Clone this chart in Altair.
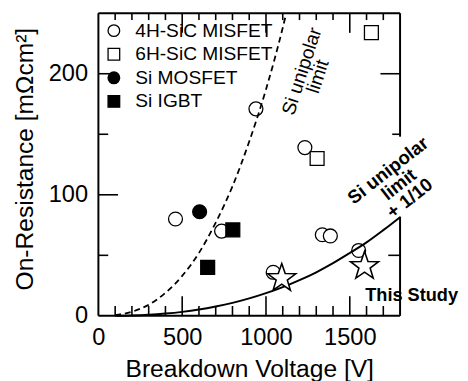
import altair as alt
import pandas as pd

FONT = "Liberation Sans"
W, H = 307, 308

# ---- data ----
cats = ["4H-SiC MISFET", "6H-SiC MISFET", "Si MOSFET", "Si IGBT"]
mis4h_bv = [460, 735, 940, 1232, 1336, 1384, 1553, 1043]
mis4h_ron = [80, 70, 171, 139, 67, 66, 54, 36]
mis6h_bv = [1629, 1305]
mis6h_ron = [234, 130]
mos_bv = [604]
mos_ron = [86]
igbt_bv = [652, 802]
igbt_ron = [40, 71]
study_bv = [1094, 1588]
study_ron = [31, 41]

# Si unipolar limit (dashed) and limit/10 (solid)
lim_bv = [100, 200, 300, 400, 500, 600, 700, 800, 900, 1000, 1100, 1121]
lim_ron = [0.6, 3.4, 9.2, 19, 33, 52, 77, 107, 144, 187, 238, 250]
lim10_bv = [100, 200, 300, 400, 500, 600, 700, 800, 900, 1000, 1100, 1200,
            1300, 1400, 1500, 1600, 1700, 1800]
lim10_ron = [0.06, 0.34, 0.92, 1.9, 3.3, 5.2, 7.7, 10.7, 14.4, 18.8, 23.7, 29.5,
             36, 43.5, 51.9, 60.7, 70.8, 81.5]

x_labels = [0, 500, 1000, 1500]
y_labels = [0, 100, 200]
x_minor = [100, 200, 300, 400, 600, 700, 800, 900, 1100, 1200, 1300, 1400, 1600, 1700]
x_major = [500, 1000, 1500]
y_minor = [50, 150]
y_major = [100, 200]
right_ticks_v = [50, 150, 200]
right_ticks_len = [12, 8, 20]

# frame segments (right edge interrupted behind the label)
frame_x1 = [0, 0, 0, 1800, 1800]
frame_x2 = [1800, 1800, 0, 1800, 1800]
frame_y1 = [0, 250, 0, 0, 148]
frame_y2 = [0, 250, 250, 82, 250]

xs = alt.Scale(domain=[0, 1800], nice=False, zero=False)
ys = alt.Scale(domain=[0, 250], nice=False, zero=False)

X_AX = alt.Axis(
    values=x_labels, format="d", ticks=False, domain=False, grid=False,
    labelFlush=False, labelFontSize=24, labelFont=FONT, labelColor="black",
    labelPadding=10, title="Breakdown Voltage [V]", titleFontSize=25,
    titleFont=FONT, titleFontWeight="normal", titleColor="black", titlePadding=8)
Y_AX = alt.Axis(
    values=y_labels, format="d", ticks=False, domain=False, grid=False,
    labelFlush=False, labelFontSize=24, labelFont=FONT, labelColor="black",
    labelPadding=11, title="On-Resistance [mΩcm²]", titleFontSize=25,
    titleFont=FONT, titleFontWeight="normal", titleColor="black",
    titlePadding=11, titleY=148)


def X(f):
    return alt.X(f, scale=xs, axis=X_AX)


def Y(f):
    return alt.Y(f, scale=ys, axis=Y_AX)


STAR = ("M0,-1L0.235,-0.324L0.951,-0.309L0.380,0.124L0.588,0.809L0,0.4"
        "L-0.588,0.809L-0.380,0.124L-0.951,-0.309L-0.235,-0.324Z")

pts = pd.DataFrame({
    "device": [cats[0]] * len(mis4h_bv) + [cats[1]] * len(mis6h_bv)
    + [cats[2]] * len(mos_bv) + [cats[3]] * len(igbt_bv),
    "bv": mis4h_bv + mis6h_bv + mos_bv + igbt_bv,
    "ron": mis4h_ron + mis6h_ron + mos_ron + igbt_ron,
})

leg = alt.Legend(title=None, orient="none", legendX=6, legendY=8, padding=0,
                 rowPadding=3, labelFontSize=19.5, labelFont=FONT, labelColor="black",
                 symbolSize=140, symbolStrokeWidth=1.3, labelOffset=12)

points = alt.Chart(pts).mark_point(filled=True, size=200, strokeWidth=1.3,
                                    opacity=1).encode(
    x=X("bv:Q"), y=Y("ron:Q"),
    shape=alt.Shape("device:N", scale=alt.Scale(domain=cats,
                    range=["circle", "square", "circle", "square"]), legend=leg),
    fill=alt.Fill("device:N", scale=alt.Scale(domain=cats,
                  range=["white", "white", "black", "black"]), legend=leg),
    stroke=alt.Stroke("device:N", scale=alt.Scale(domain=cats,
                      range=["black", "black", "black", "black"]), legend=leg),
)

study = alt.Chart(pd.DataFrame({"bv": study_bv, "ron": study_ron})).mark_point(
    shape=STAR, size=900, filled=True, fill="white", stroke="black",
    strokeWidth=1.6, opacity=1).encode(x=X("bv:Q"), y=Y("ron:Q"))

lim = alt.Chart(pd.DataFrame({"bv": lim_bv, "ron": lim_ron})).mark_line(
    color="black", strokeWidth=1.8, strokeDash=[6, 4], interpolate="monotone").encode(
    x=X("bv:Q"), y=Y("ron:Q"))

lim10 = alt.Chart(pd.DataFrame({"bv": lim10_bv, "ron": lim10_ron})).mark_line(
    color="black", strokeWidth=2, interpolate="monotone").encode(
    x=X("bv:Q"), y=Y("ron:Q"))


def text_layer(x, y, txt, angle, weight, size, lh, align="center"):
    return alt.Chart(pd.DataFrame({"bv": [x], "ron": [y], "t": [txt]})).mark_text(
        font=FONT, fontSize=size, fontWeight=weight, angle=angle, align=align,
        baseline="middle", lineBreak="\n", lineHeight=lh, color="black").encode(
        x=X("bv:Q"), y=Y("ron:Q"), text="t:N")


txt1 = text_layer(1215, 202, "Si unipolar\nlimit", 288, "normal", 19.5, 17)
txt2 = text_layer(1728, 120, "Si unipolar\nlimit\n+ 1/10", 322, "bold", 19, 18)
txt3 = text_layer(1592, 17, "This Study", 0, "bold", 18.5, 19, align="left")


def xticks(vals, length, top):
    y1, y2 = (0, length) if top else (H, H - length)
    return alt.Chart(pd.DataFrame({"bv": vals})).mark_rule(
        color="black", strokeWidth=1.6).encode(
        x=X("bv:Q"), y=alt.value(y1), y2=alt.value(y2))


def yticks(vals, length, right):
    x1, x2 = (W, W - length) if right else (0, length)
    return alt.Chart(pd.DataFrame({"ron": vals})).mark_rule(
        color="black", strokeWidth=1.6).encode(
        y=Y("ron:Q"), x=alt.value(x1), x2=alt.value(x2))


right_layers = [yticks([v], l, True) for v, l in zip(right_ticks_v, right_ticks_len)]

frame = alt.Chart(pd.DataFrame({"bv": frame_x1, "bv2": frame_x2,
                                "ron": frame_y1, "ron2": frame_y2})).mark_rule(
    color="black", strokeWidth=2).encode(
    x=X("bv:Q"), x2="bv2:Q", y=Y("ron:Q"), y2="ron2:Q")

layers = [
    points,
    xticks(x_minor, 10, False), xticks(x_major, 20, False),
    xticks(x_minor, 7, True), xticks(x_major, 20, True),
    yticks(y_minor, 10, False), yticks(y_major, 20, False),
    *right_layers,
    lim, lim10, study, txt1, txt2, txt3, frame,
]

chart = alt.layer(*layers).properties(
    width=W, height=H,
    autosize=alt.AutoSizeParams(type="none"),
    padding={"left": 92, "top": 2, "right": 61, "bottom": 63},
).configure_view(stroke="transparent")

chart.save("out.html", embed_options={"renderer": "svg", "actions": False})
